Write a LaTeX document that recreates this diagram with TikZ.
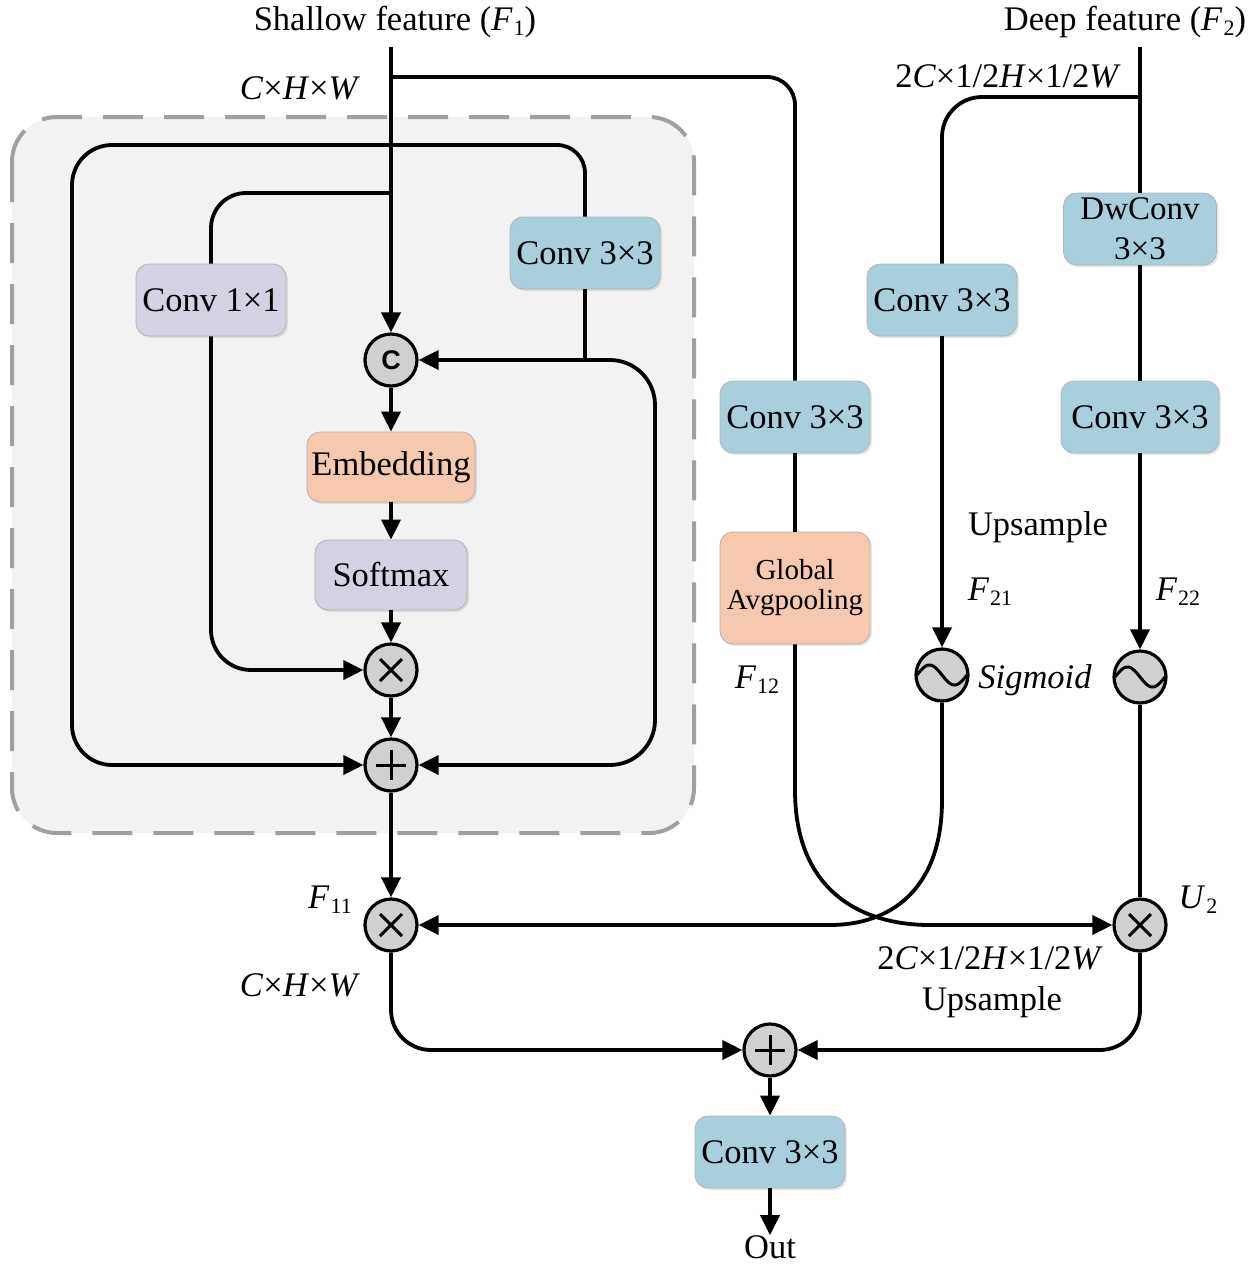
\documentclass[tikz,border=0pt]{standalone}
\usepackage{fontspec}
\setmainfont{Liberation Serif}
\newfontfamily\sansf{Liberation Sans}
\usetikzlibrary{arrows.meta,shadows,calc}
\definecolor{cblue}{HTML}{A7D0DC}
\definecolor{cpurp}{HTML}{D5D0E2}
\definecolor{corng}{HTML}{F6C8AE}
\definecolor{cbg}{HTML}{F2F2F2}
\definecolor{cdash}{HTML}{A0A0A0}
\definecolor{cop}{HTML}{D0D0D0}
\newcommand{\fbig}{\fontsize{34.5}{38}\selectfont}
\newcommand{\Fs}[2]{\textit{#1}\kern1pt\raisebox{-0.3ex}{\fontsize{22}{22}\selectfont #2}}
\begin{document}
\begin{tikzpicture}[x=1pt,y=-1pt,
  blk/.style={draw=black!30, line width=0.8pt, rounded corners=13pt, minimum width=150pt, minimum height=72pt, inner sep=0pt, align=center, font=\fbig, drop shadow={opacity=0.2, shadow xshift=2pt, shadow yshift=-2pt}},
  op/.style={circle, draw, line width=3.2pt, fill=cop, minimum size=52pt, inner sep=0pt},
  ln/.style={line width=3.8pt},
  arr/.style={ln, -{Triangle[length=20pt,width=19pt]}},
  lab/.style={font=\fbig, inner sep=0pt}]
\useasboundingbox (0,0) rectangle (1259,1275);
\draw[cdash, line width=4pt, dash pattern=on 40pt off 21pt, fill=cbg, rounded corners=45pt] (12,117) rectangle (694,833);

% nodes
\node[op] (cc) at (391,360) {\sansf\bfseries\fontsize{27}{27}\selectfont C};
\node[blk, fill=corng, minimum width=168pt, minimum height=70pt] (emb) at (391,467) {Embedding};
\node[blk, fill=cpurp, minimum width=152pt, minimum height=70pt] (sm) at (391,575) {Softmax};
\node[op] (t1) at (391,670) {};
\node[op] (p1) at (391,765) {};
\node[blk, fill=cblue] (c33a) at (585,253) {Conv 3×3};
\node[blk, fill=cpurp] (c11) at (211,300) {Conv 1×1};
\node[op] (t2) at (391,925) {};
\node[op] (p2) at (770,1050) {};
\node[blk, fill=cblue] (c33o) at (770,1152) {Conv 3×3};
\node[lab] (out) at (770,1247) {Out};
\node[blk, fill=cblue] (c33b) at (795,417) {Conv 3×3};
\node[blk, fill=corng, minimum height=112pt, font=\fontsize{29}{30}\selectfont] (gap) at (795,588) {Global\\Avgpooling};
\node[blk, fill=cblue] (c33c) at (942,300) {Conv 3×3};
\node[blk, fill=cblue, minimum width=153pt, font=\fontsize{33}{40}\selectfont] (dw) at (1140,229) {DwConv\\3×3};
\node[blk, fill=cblue, minimum width=158pt] (c33d) at (1140,417) {Conv 3×3};
\node[op] (s1) at (942,675) {};
\node[op] (s2) at (1140,677) {};
\node[op] (u2) at (1140,925) {};

% labels
\node[lab] (tshal) at (395,22) {Shallow feature (\Fs{F}{1})};
\node[lab] (tdeep) at (1125,22) {Deep feature (\Fs{F}{2})};
\node[lab] (d1) at (300,88) {\textit{C}×\textit{H}×\textit{W}};
\node[lab] (d2) at (1008,76) {2\textit{C}×1/2\textit{H}×1/2\textit{W}};
\node[lab] (d3) at (300,985) {\textit{C}×\textit{H}×\textit{W}};
\node[lab] (d4) at (990,958) {2\textit{C}×1/2\textit{H}×1/2\textit{W}};
\node[lab] (up1) at (992,1002) {Upsample};
\node[lab] (up2) at (1038,527) {Upsample};
\node[lab] (f21) at (990,592) {\Fs{F}{21}};
\node[lab] (f22) at (1178,592) {\Fs{F}{22}};
\node[lab] (f12) at (757,680) {\Fs{F}{12}};
\node[lab] (f11) at (330,900) {\Fs{F}{11}};
\node[lab] (u2l) at (1198,900) {\Fs{U}{2}};
\node[lab] (sigl) at (1035,680) {\textit{Sigmoid}};

% symbols
\foreach \n in {t1,t2,u2} {
  \draw[line width=3pt] ($(\n)+(-11,-11)$) -- ($(\n)+(11,11)$);
  \draw[line width=3pt] ($(\n)+(-11,11)$) -- ($(\n)+(11,-11)$);
}
\foreach \n in {p1,p2} {
  \draw[line width=3pt] ($(\n)+(-15,0)$) -- ($(\n)+(15,0)$);
  \draw[line width=3pt] ($(\n)+(0,-15)$) -- ($(\n)+(0,15)$);
}
\foreach \n in {s1,s2} {
  \draw[line width=3pt, shift={(\n.center)}] plot[domain=-25:25, samples=40, smooth] (\x,{10*sin(\x*7.2)});
}

% coordinates
\coordinate (sIn) at (391,47);
\coordinate (j1) at (391,77);
\coordinate (j2) at (391,145);
\coordinate (j3) at (391,193);
\coordinate (j4) at (585,360);
\coordinate (dIn) at (1140,47);
\coordinate (j5) at (1140,97);

% connectors
\draw[arr] (sIn) -- (cc);
\draw[ln, rounded corners=28pt] (j1) -- (795,77) -- (c33b.north);
\draw[arr, rounded corners=40pt] (j2) -- (72,145) -- (72,765) -- (p1);
\draw[ln, rounded corners=28pt] (j2) -- (585,145) -- (c33a.north);
\draw[ln, rounded corners=35pt] (j3) -- (211,193) -- (c11.north);
\draw[arr, rounded corners=40pt] (c11.south) -- (211,670) -- (t1);
\draw[ln] (c33a.south) -- (j4);
\draw[arr] (j4) -- (cc);
\draw[arr, rounded corners=45pt] (j4) -- (655,360) -- (655,765) -- (p1);
\draw[arr] (cc) -- (emb);
\draw[arr] (emb) -- (sm);
\draw[arr] (sm) -- (t1);
\draw[arr] (t1) -- (p1);
\draw[arr] (p1) -- (t2);
\draw[arr, rounded corners=40pt] (t2) -- (391,1050) -- (p2);
\draw[arr] (p2) -- (c33o);
\draw[arr] (c33o) -- (out);
\draw[ln] (c33b) -- (gap);
\draw[arr] (gap.south) -- (795,790) .. controls (795,890) and (860,925) .. (930,925) -- (u2);
\draw[ln] (dIn) -- (dw.north);
\draw[ln, rounded corners=40pt] (j5) -- (942,97) -- (c33c.north);
\draw[arr] (c33c) -- (s1);
\draw[ln] (dw) -- (c33d);
\draw[arr] (c33d) -- (s2);
\draw[ln] (s2) -- (u2);
\draw[arr] (s1.south) -- (942,800) .. controls (942,890) and (890,925) .. (830,925) -- (t2);
\draw[arr, rounded corners=40pt] (u2) -- (1140,1050) -- (p2);
\end{tikzpicture}
\end{document}
